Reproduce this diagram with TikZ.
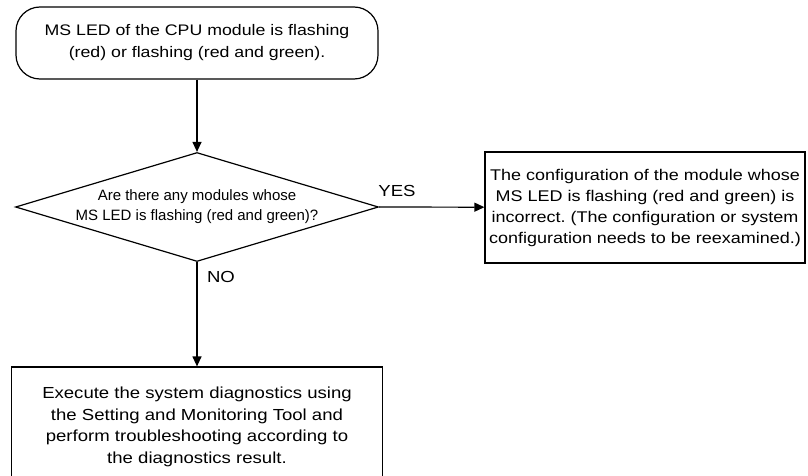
\documentclass[tikz,border=0pt]{standalone}
\usepackage{fontspec}
\setmainfont{Liberation Sans}
\newfontfamily\widesans[FakeStretch=1.16]{Liberation Sans}
\usetikzlibrary{shapes.geometric,arrows.meta}

\begin{document}
\begin{tikzpicture}[x=1pt,y=-1pt,
    every node/.style={font=\widesans\fontsize{16}{21.5}\selectfont,align=center},
    startbox/.style={draw,line width=1.2pt,rounded corners=24pt,minimum width=362pt,minimum height=72pt,inner sep=0pt,
      font=\widesans\fontsize{15.3}{22}\selectfont},
    decide/.style={draw,line width=1.2pt,diamond,aspect=3.33,minimum width=363pt,minimum height=109pt,inner sep=0pt,
      font=\fontsize{15}{20}\selectfont},
    actbox/.style={draw,line width=1.2pt,inner sep=0pt},
    flow/.style={-{Triangle[length=10pt,width=9pt]},line width=1.2pt}]
  \useasboundingbox (0,0) rectangle (808,476);
  \clip (0,0) rectangle (808,476);
  \node[startbox] (led) at (197,43) {MS LED of the CPU module is flashing\\(red) or flashing (red and green).};
  \node[decide] (dia) at (197,207) {Are there any modules whose\\MS LED is flashing (red and green)?};
  \node[actbox,minimum width=320pt,minimum height=111pt,font=\widesans\fontsize{15.5}{21}\selectfont\frenchspacing] (conf) at (645,207.5) {The configuration of the module whose\\MS LED is flashing (red and green) is\\incorrect. (The configuration or system\\configuration needs to be reexamined.)};
  \node[actbox,minimum width=371pt,minimum height=120pt] (diag) at (197,427) {Execute the system diagnostics using\\the Setting and Monitoring Tool and\\perform troubleshooting according to\\the diagnostics result.};
  \draw[flow] (led) -- (dia);
  \draw[flow] (dia.east) -- (conf);
  \draw[flow] (dia.south) -- (diag);
  \node (yes) at (397,191) {YES};
  \node (no) at (221,277) {NO};
\end{tikzpicture}
\end{document}
